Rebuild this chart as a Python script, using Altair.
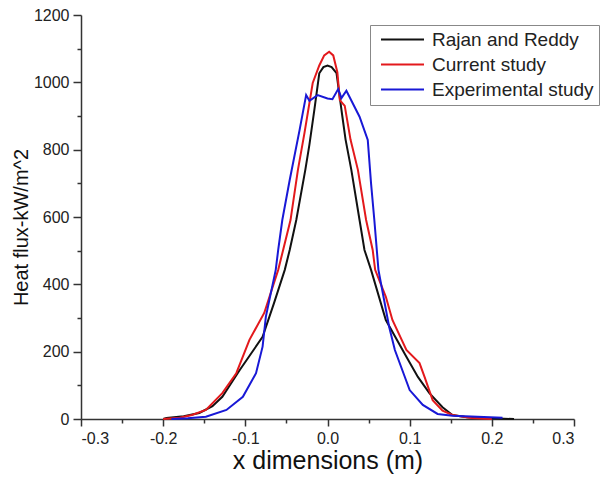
import altair as alt
import pandas as pd

series_names = ["Rajan and Reddy", "Current study", "Experimental study"]
series_colors = ["#111111", "#e3191c", "#1818d6"]

rr_x = [-0.2, -0.196, -0.175, -0.156, -0.14, -0.128, -0.107, -0.09, -0.079, -0.065, -0.052,
        -0.046, -0.038, -0.027, -0.022, -0.016, -0.01, -0.005, 0.0, 0.005, 0.011, 0.018,
        0.022, 0.029, 0.039, 0.045, 0.053, 0.071, 0.096, 0.11, 0.124, 0.14, 0.152, 0.17,
        0.2, 0.227]
rr_y = [0, 3, 8, 18, 38, 66, 145, 205, 244, 345, 443,
        502, 591, 740, 815, 918, 1027, 1045, 1050, 1045, 1027, 900,
        830, 740, 591, 502, 443, 294, 185, 125, 77, 35, 12, 5,
        2, 0]

cs_x = [-0.2, -0.18, -0.165, -0.148, -0.128, -0.111, -0.095, -0.077, -0.06, -0.054, -0.045,
        -0.036, -0.028, -0.018, -0.01, -0.004, 0.002, 0.007, 0.012, 0.015, 0.021, 0.028,
        0.037, 0.047, 0.055, 0.058, 0.071, 0.079, 0.096, 0.112, 0.118, 0.128, 0.14, 0.152,
        0.175, 0.2]
cs_y = [0, 4, 12, 27, 77, 136, 235, 315, 443, 502, 591,
        740, 850, 998, 1050, 1080, 1091, 1080, 1030, 947, 930, 830,
        740, 591, 502, 443, 363, 294, 205, 166, 126, 56, 25, 12,
        3, 0]

ex_x = [-0.19, -0.17, -0.148, -0.123, -0.103, -0.087, -0.079, -0.075, -0.063, -0.06, -0.055,
        -0.046, -0.034, -0.026, -0.022, -0.012, 0.0, 0.006, 0.013, 0.017, 0.023, 0.039,
        0.049, 0.053, 0.057, 0.062, 0.075, 0.082, 0.1, 0.116, 0.134, 0.152, 0.213]
ex_y = [0, 2, 7, 27, 66, 136, 215, 304, 443, 502, 591,
        710, 858, 962, 945, 962, 952, 950, 980, 953, 975, 898,
        829, 700, 591, 443, 274, 205, 86, 42, 15, 10, 4]

x_ticks = [-0.3, -0.25, -0.2, -0.15, -0.1, -0.05, 0.0, 0.05, 0.1, 0.15, 0.2, 0.25, 0.3]
y_ticks = [0, 100, 200, 300, 400, 500, 600, 700, 800, 900, 1000, 1100, 1200]

frames = []
for name, xs, ys in [(series_names[0], rr_x, rr_y),
                     (series_names[1], cs_x, cs_y),
                     (series_names[2], ex_x, ex_y)]:
    frames.append(pd.DataFrame({"x": xs, "y": ys, "series": name, "order": list(range(len(xs)))}))
df = pd.concat(frames, ignore_index=True)

FONT = "Liberation Sans"

chart = alt.Chart(df).mark_line(strokeWidth=2).encode(
    x=alt.X("x:Q",
            scale=alt.Scale(domain=[-0.3, 0.3], nice=False, zero=False),
            axis=alt.Axis(title="x dimensions (m)", values=x_ticks, grid=False,
                          labelExpr="abs(round(datum.value*100)) % 10 == 0 ? replace(format(datum.value, '.1f'), '\u2212', '-') : ''",
                          tickSize={"condition": {"test": "abs(round(datum.value*100)) % 10 != 0", "value": 4}, "value": 7},
                          labelFontSize=16, titleFontSize=25, labelPadding=4, titlePadding=2,
                          titleFontWeight="normal")),
    y=alt.Y("y:Q",
            scale=alt.Scale(domain=[0, 1200], nice=False),
            axis=alt.Axis(title="Heat flux-kW/m^2", values=y_ticks, grid=False, format="d",
                          labelExpr="datum.value % 200 == 0 ? datum.label : ''",
                          tickSize={"condition": {"test": "datum.value % 200 != 0", "value": 4}, "value": 8},
                          labelFontSize=16, titleFontSize=20, labelPadding=4,
                          titleX=-50, titleY=212,
                          titleFontWeight="normal")),
    color=alt.Color("series:N",
                    scale=alt.Scale(domain=series_names, range=series_colors),
                    sort=series_names,
                    legend=alt.Legend(title=None, orient="none", legendX=289, legendY=10,
                                      symbolType="stroke", symbolSize=1849, symbolStrokeWidth=2,
                                      labelFontSize=19, labelFont=FONT, labelColor="#222",
                                      strokeColor="#888888", fillColor="white", padding=5,
                                      clipHeight=19,
                                      symbolOffset=5, rowPadding=5, labelOffset=7, labelLimit=400)),
    order="order:Q",
).properties(
    width=493, height=404,
    autosize=alt.AutoSizeParams(type="none"),
    padding={"left": 81, "top": 15, "right": 31, "bottom": 61},
).configure(font=FONT).configure_view(stroke=None).configure_axis(
    domainColor="#333333", domainWidth=1.5, tickColor="#333333", tickWidth=1.5,
    labelColor="#222222", titleColor="#111111", labelFont=FONT, titleFont=FONT,
)

chart.save("out.html", embed_options={"renderer": "svg", "actions": False})
